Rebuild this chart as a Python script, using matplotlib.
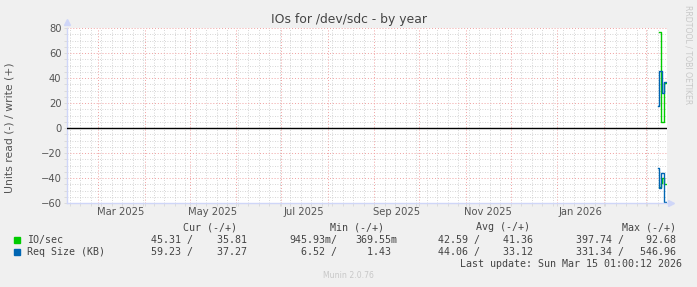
import numpy as np
import pandas as pd
import matplotlib
matplotlib.use("Agg")
import matplotlib.pyplot as plt
import matplotlib.dates as mdates
from matplotlib.patches import Rectangle

W, H = 697, 287

# yearly window (400 days back from last update)
t_start = pd.Timestamp("2025-02-08 01:00")
t_end = pd.Timestamp("2026-03-15 01:00")

# daily samples (only the last days have data)
days = pd.to_datetime(["2026-03-09", "2026-03-10", "2026-03-11", "2026-03-12",
                       "2026-03-13", "2026-03-14", "2026-03-15"])
io_read = [np.nan, 47, 44, 40, 45, 45, 45]
io_write = [np.nan, 77, 5, 5, 36, 36, 36]
req_read = [32, 48, 36, 36, 59, 59, 59]
req_write = [18, 46, 46, 28, 37, 37, 37]

label_months = ["2025-03-01", "2025-05-01", "2025-07-01", "2025-09-01",
                "2025-11-01", "2026-01-01"]
label_text = ["Mar 2025", "May 2025", "Jul 2025", "Sep 2025", "Nov 2025", "Jan 2026"]

# legend table
series_names = ["IO/sec", "Req Size (KB)"]
series_colors = ["#00CC00", "#0066B3"]
cur_vals = [(45.31, 35.81), (59.23, 37.27)]
min_vals = [(0.94593, 0.36955), (6.52, 1.43)]
avg_vals = [(42.59, 41.36), (44.06, 33.12)]
max_vals = [(397.74, 92.68), (331.34, 546.96)]

font_col = "#555555"
axis_col = "#CFD6F8"


def px(x):
    return x / W


def py(y):
    return 1 - y / H


def fmt(v):
    if v < 1:
        return "%.2fm" % (v * 1000)
    return "%.2f " % v


fig = plt.figure(figsize=(W / 100, H / 100), dpi=100)
fig.patch.set_facecolor("#F0F0F0")
ax = fig.add_axes([px(67), py(203), px(667) - px(67), py(28) - py(203)])
ax.set_facecolor("white")

neg = lambda v: [-x for x in v]
ax.plot(days, io_write, drawstyle="steps-post", color=series_colors[0], lw=1)
ax.plot(days, neg(io_read), drawstyle="steps-post", color=series_colors[0], lw=1)
ax.plot(days, req_write, drawstyle="steps-post", color=series_colors[1], lw=1)
ax.plot(days, neg(req_read), drawstyle="steps-post", color=series_colors[1], lw=1)
ax.axhline(0, color="black", lw=1, zorder=3)

ax.set_xlim(t_start, t_end)
ax.set_ylim(-60, 80)

# grid
ax.xaxis.set_major_locator(mdates.MonthLocator())
ax.xaxis.set_minor_locator(mdates.WeekdayLocator(byweekday=mdates.MO))
ax.xaxis.set_major_formatter(plt.NullFormatter())
ax.set_yticks(np.arange(-60, 81, 20))
ax.set_yticks(np.arange(-60, 81, 5), minor=True)
ax.grid(which="minor", color="#C8C8C8", ls=(0, (1, 2)), lw=0.6)
ax.grid(which="major", color="#F0A0A0", ls=(0, (1, 2)), lw=0.7)
ax.set_axisbelow(True)
ax.tick_params(which="both", length=2, width=0.6, color="#D8D8D8", labelsize=7.2,
               labelcolor=font_col, pad=2)
ax.tick_params(axis="x", which="both", length=2)

for m, t in zip(label_months, label_text):
    mid = pd.Timestamp(m) + pd.Timedelta(days=15)
    ax.text(mid, -0.05, t, transform=ax.get_xaxis_transform(), ha="center", va="center",
            fontsize=7.2, color=font_col)

for s in ["top", "right"]:
    ax.spines[s].set_visible(False)
for s in ["left", "bottom"]:
    ax.spines[s].set_color(axis_col)
    ax.spines[s].set_linewidth(1)
ax.plot([0], [1.035], marker="^", ms=4, color=axis_col, transform=ax.transAxes, clip_on=False)
ax.plot([1.006], [0], marker=">", ms=4, color=axis_col, transform=ax.transAxes, clip_on=False)

fig.text(px(349), py(19), "IOs for /dev/sdc - by year", ha="center", va="center",
         fontsize=8.9, color="#444444")
fig.text(px(10), py(128), "Units read (-) / write (+)", rotation=90, ha="center",
         va="center", fontsize=7.8, color=font_col)
fig.text(px(688), py(5), "RRDTOOL / TOBI OETIKER", rotation=270, ha="center", va="top",
         fontsize=5.6, color="#C8C8C8")

# legend
mono = dict(family="DejaVu Sans Mono", fontsize=7.2, color="#444444", va="center")
for x, h in zip([237, 384, 530, 676], ["Cur (-/+)", "Min (-/+)", "Avg (-/+)", "Max (-/+)"]):
    fig.text(px(x), py(227), h, ha="right", **mono)
read_edges = [193, 337, 480, 624]
write_edges = [253, 397, 539, 682]
for i, name in enumerate(series_names):
    y = 240 + 12 * i
    fig.patches.append(Rectangle((px(14), py(y + 3)), px(6), py(0) - py(6),
                                 transform=fig.transFigure, color=series_colors[i]))
    fig.text(px(27), py(y), name, ha="left", **mono)
    for j, vals in enumerate([cur_vals, min_vals, avg_vals, max_vals]):
        r, w = vals[i]
        fig.text(px(read_edges[j]), py(y), fmt(r) + "/", ha="right", **mono)
        fig.text(px(write_edges[j]), py(y), fmt(w), ha="right", **mono)
fig.text(px(682), py(264), "Last update: Sun Mar 15 01:00:12 2026", ha="right", **mono)
fig.text(px(348), py(276), "Munin 2.0.76", ha="center", va="center", fontsize=5.6,
         color="#C8C8C8")

fig.savefig("out.png", dpi=100, facecolor=fig.get_facecolor())
